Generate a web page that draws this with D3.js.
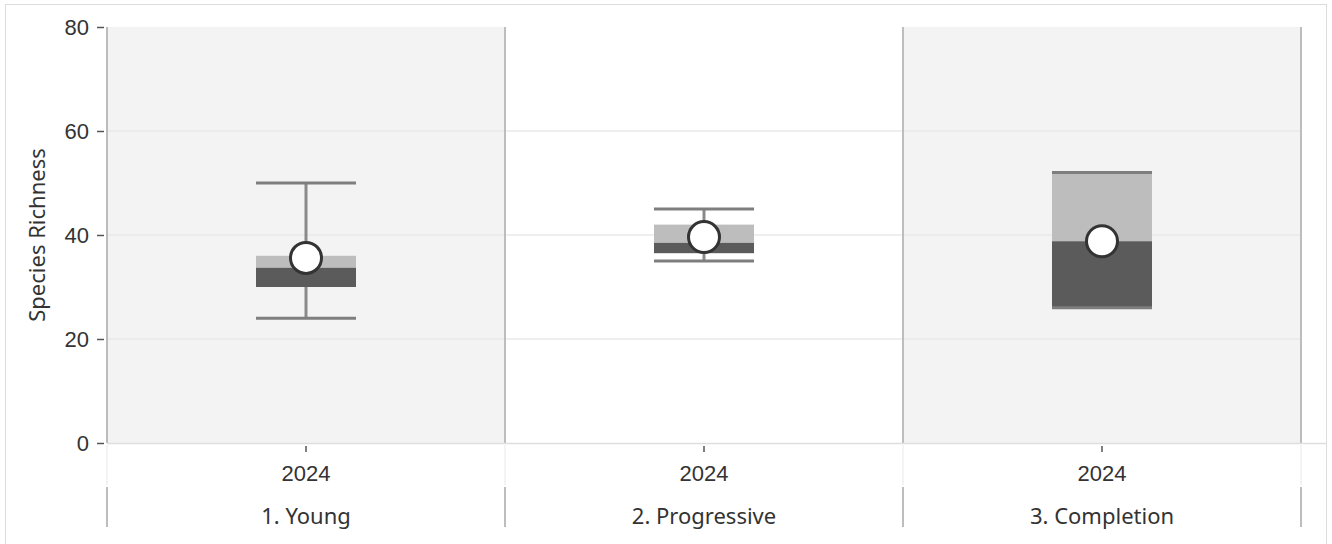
<!DOCTYPE html>
<html>
<head>
<meta charset="utf-8">
<style>
  body { margin: 0; background: #fff; }
  svg { font-family: "Segoe UI", "Noto Sans", "Open Sans", sans-serif; }
</style>
<script src="https://d3js.org/d3.v7.min.js"></script>
</head>
<body>
<svg id="chart" width="1332" height="544"></svg>
<script>
const categories = ["1. Young", "2. Progressive", "3. Completion"];
const years = ["2024", "2024", "2024"];
const minVals = [24, 35, 26];
const q1Vals = [30, 36.5, 26];
const medianVals = [33.7, 38.5, 38.8];
const q3Vals = [36, 42, 52];
const maxVals = [50, 45, 52];
const meanVals = [35.6, 39.6, 38.8];
const yTicks = [0, 20, 40, 60, 80];

const svg = d3.select("#chart");
const plotLeft = 107, plotRight = 1301, plotTop = 27, plotBottom = 443;
const fontSize = 22;

const x = d3.scaleBand().domain(categories).range([plotLeft, plotRight]).padding(0);
const y = d3.scaleLinear().domain([0, 80]).range([plotBottom, plotTop]);
const boxW = 100;

// outer frame
svg.append("rect").attr("x", 5.5).attr("y", 4.5).attr("width", 1321).attr("height", 560)
  .attr("fill", "none").attr("stroke", "#dcdcdc");

// panel backgrounds
svg.selectAll("rect.panel").data(categories).join("rect")
  .attr("class", "panel")
  .attr("x", d => x(d)).attr("y", plotTop)
  .attr("width", x.bandwidth()).attr("height", plotBottom - plotTop)
  .attr("fill", (d, i) => i === 1 ? "#ffffff" : "#f3f3f3");

// grid
svg.selectAll("line.grid").data(yTicks.filter(t => t > 0 && t < 80)).join("line")
  .attr("class", "grid")
  .attr("x1", plotLeft).attr("x2", plotRight)
  .attr("y1", d => y(d)).attr("y2", d => y(d))
  .attr("stroke", "#e8e8e8").attr("stroke-width", 1.5);

// panel separators
svg.selectAll("line.sep").data(categories).join("line")
  .attr("class", "sep")
  .attr("x1", d => x(d) + x.bandwidth()).attr("x2", d => x(d) + x.bandwidth())
  .attr("y1", plotTop).attr("y2", plotBottom)
  .attr("stroke", "#bdbdbd").attr("stroke-width", 2);

// baseline
svg.append("line").attr("x1", plotLeft).attr("x2", 1326).attr("y1", plotBottom + 0.5).attr("y2", plotBottom + 0.5)
  .attr("stroke", "#dedede").attr("stroke-width", 1.5);

// y axis
const yAxis = svg.append("g").attr("transform", `translate(${plotLeft},0)`)
  .call(d3.axisLeft(y).tickValues(yTicks).tickSize(10).tickPadding(8));
yAxis.select(".domain").attr("stroke", "#a8a8a8").attr("stroke-width", 1.5).attr("d", `M0,${plotTop}V${plotBottom}`);
yAxis.selectAll(".tick line").attr("stroke", "#555").attr("stroke-width", 1.5).attr("x1", -3);
yAxis.selectAll(".tick text").attr("fill", "#333").attr("font-size", fontSize);

svg.append("text")
  .attr("transform", `translate(45,${y(40)}) rotate(-90)`)
  .attr("text-anchor", "middle")
  .attr("fill", "#333").attr("font-size", fontSize)
  .text("Species Richness");

// x axis (year)
const xAxis = svg.append("g").attr("transform", `translate(0,${plotBottom + 1})`)
  .call(d3.axisBottom(x).tickSize(8).tickFormat((d, i) => years[i]));
xAxis.select(".domain").remove();
xAxis.selectAll(".tick line").attr("stroke", "#555").attr("stroke-width", 1.5).attr("y1", 2);
xAxis.selectAll(".tick text").attr("fill", "#333").attr("font-size", fontSize)
  .attr("y", 37).attr("dy", 0);

// faint year-row separators
const edges = [plotLeft].concat(categories.map(d => x(d) + x.bandwidth()));
svg.selectAll("line.faint").data(edges).join("line")
  .attr("class", "faint")
  .attr("x1", d => d).attr("x2", d => d).attr("y1", plotBottom + 2).attr("y2", 485)
  .attr("stroke", "#f0f0f0").attr("stroke-width", 1.5);

// category row separators
svg.selectAll("line.catsep").data(edges).join("line")
  .attr("class", "catsep")
  .attr("x1", d => d).attr("x2", d => d).attr("y1", 487).attr("y2", 527)
  .attr("stroke", "#bdbdbd").attr("stroke-width", 2);

svg.selectAll("text.cat").data(categories).join("text")
  .attr("class", "cat")
  .attr("x", d => x(d) + x.bandwidth() / 2).attr("y", 524)
  .attr("text-anchor", "middle").attr("fill", "#333").attr("font-size", fontSize)
  .text(d => d);

// boxes
const boxes = svg.selectAll("g.box").data(categories).join("g").attr("class", "box")
  .attr("transform", d => `translate(${x(d) + x.bandwidth() / 2},0)`);

boxes.append("line")
  .attr("x1", 0).attr("x2", 0)
  .attr("y1", (d, i) => y(maxVals[i])).attr("y2", (d, i) => y(minVals[i]))
  .attr("stroke", "#8a8a8a").attr("stroke-width", 3);

boxes.append("rect")
  .attr("x", -boxW / 2).attr("width", boxW)
  .attr("y", (d, i) => y(q3Vals[i])).attr("height", (d, i) => y(medianVals[i]) - y(q3Vals[i]))
  .attr("fill", "#bdbdbd");

boxes.append("rect")
  .attr("x", -boxW / 2).attr("width", boxW)
  .attr("y", (d, i) => y(medianVals[i])).attr("height", (d, i) => y(q1Vals[i]) - y(medianVals[i]))
  .attr("fill", "#5b5b5b");

[minVals, maxVals].forEach(arr => {
  boxes.append("line")
    .attr("x1", -boxW / 2).attr("x2", boxW / 2)
    .attr("y1", (d, i) => y(arr[i])).attr("y2", (d, i) => y(arr[i]))
    .attr("stroke", "#7e7e7e").attr("stroke-width", 3);
});

boxes.append("circle")
  .attr("cx", 0).attr("cy", (d, i) => y(meanVals[i]))
  .attr("r", 15.5)
  .attr("fill", "#fff").attr("stroke", "#333").attr("stroke-width", 3);
</script>
</body>
</html>
